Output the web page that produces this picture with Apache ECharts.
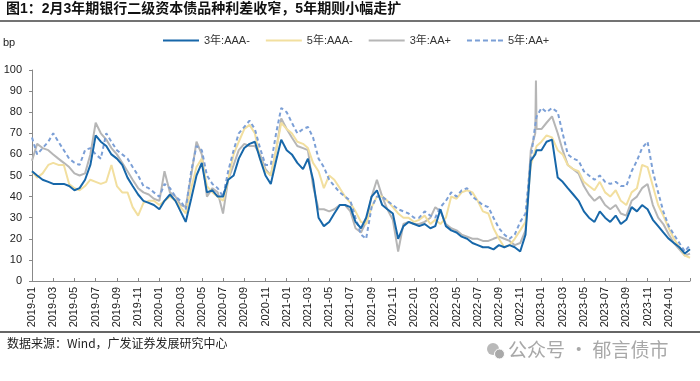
<!DOCTYPE html>
<html>
<head>
<meta charset="utf-8">
<script src="https://cdn.jsdelivr.net/npm/echarts@6/dist/echarts.min.js"></script>
<style>
html,body{margin:0;padding:0;background:#fff;}
#main{width:700px;height:381px;}
</style>
</head>
<body>
<div id="main"></div>
<script>
// Sampling dates (half-monthly, plus two extra dates around the Dec-2022 spike)
const dates = [
'2019-01-01','2019-01-16','2019-02-01','2019-02-16','2019-03-01','2019-03-16','2019-04-01','2019-04-16','2019-05-01','2019-05-16','2019-06-01','2019-06-16',
'2019-07-01','2019-07-16','2019-08-01','2019-08-16','2019-09-01','2019-09-16','2019-10-01','2019-10-16','2019-11-01','2019-11-16','2019-12-01','2019-12-16',
'2020-01-01','2020-01-16','2020-02-01','2020-02-16','2020-03-01','2020-03-16','2020-04-01','2020-04-16','2020-05-01','2020-05-16','2020-06-01','2020-06-16',
'2020-07-01','2020-07-16','2020-08-01','2020-08-16','2020-09-01','2020-09-16','2020-10-01','2020-10-16','2020-11-01','2020-11-16','2020-12-01','2020-12-16',
'2021-01-01','2021-01-16','2021-02-01','2021-02-16','2021-03-01','2021-03-16','2021-04-01','2021-04-16','2021-05-01','2021-05-16','2021-06-01','2021-06-16',
'2021-07-01','2021-07-16','2021-08-01','2021-08-16','2021-09-01','2021-09-16','2021-10-01','2021-10-16','2021-11-01','2021-11-16','2021-12-01','2021-12-16',
'2022-01-01','2022-01-16','2022-02-01','2022-02-16','2022-03-01','2022-03-16','2022-04-01','2022-04-16','2022-05-01','2022-05-16','2022-06-01','2022-06-16',
'2022-07-01','2022-07-16','2022-08-01','2022-08-16','2022-09-01','2022-09-16','2022-10-01','2022-10-16','2022-11-01','2022-11-16','2022-12-01','2022-12-14','2022-12-16','2022-12-18',
'2023-01-01','2023-01-16','2023-02-01','2023-02-16','2023-03-01','2023-03-16','2023-04-01','2023-04-16','2023-05-01','2023-05-16','2023-06-01','2023-06-16',
'2023-07-01','2023-07-16','2023-08-01','2023-08-16','2023-09-01','2023-09-16','2023-10-01','2023-10-16','2023-11-01','2023-11-16','2023-12-01','2023-12-16',
'2024-01-01','2024-01-16','2024-02-01','2024-02-16','2024-03-01'
];

const seriesNames = ['3年:AAA-', '5年:AAA-', '3年:AA+', '5年:AA+'];

const aaaMinus3Y = [
52,50,48,47,46,46,46,45,43,44,48,55,
69,66,64,60,58,55,49,45,41,38,37,36,
34,38,41,38,33,28,39,50,56,42,43,40,
40,48,50,58,63,65,66,58,50,46,57,67,
62,60,56,53,58,48,30,26,28,32,36,36,
35,28,25,30,40,43,36,34,32,20,26,28,
27,26,27,25,26,34,26,24,23,21,20,18,
17,16,16,15,17,16,17,16,14,22,57,60,61,62,
62,66,67,49,47,44,41,38,33,30,28,33,
30,28,31,27,29,35,33,36,34,29,26,23,
20,18,16,13,15
];

const aaaMinus5Y = [
52,49,51,55,56,55,55,46,44,43,45,48,
47,46,47,55,45,42,42,35,31,37,38,38,
36,38,40,38,35,32,44,54,58,45,42,40,
38,48,60,66,72,74,70,58,52,50,62,75,
72,70,66,65,63,56,52,44,50,48,44,40,
37,33,28,27,35,40,40,38,35,32,30,30,
28,29,31,27,29,27,30,40,39,42,43,42,
38,33,32,25,20,16,17,20,24,28,55,62,62,64,
66,69,68,62,60,55,53,52,47,45,43,47,
42,40,43,38,36,42,44,55,54,45,36,31,
25,20,16,12,11
];

const aaPlus3Y = [
57,65,63,62,60,58,56,54,51,50,51,60,
75,70,67,63,60,56,52,48,44,42,41,39,
38,52,42,40,36,35,50,66,60,40,44,42,
32,48,55,62,65,64,64,60,53,50,62,77,
72,68,64,63,62,45,34,34,33,34,36,36,
33,25,23,28,40,48,40,34,29,14,27,28,
27,27,28,30,35,33,27,25,24,22,21,20,
20,19,19,20,21,20,19,17,18,24,62,70,95,72,
72,75,78,70,62,55,53,51,45,41,38,40,
36,34,36,32,31,38,40,44,46,36,30,27,
22,18,15,12,13
];

const aaPlus5Y = [
68,60,63,66,70,66,62,58,56,55,62,63,
60,58,70,66,62,60,58,54,50,45,44,42,
40,46,44,40,38,34,52,64,62,50,46,44,
40,52,62,70,73,76,72,63,55,55,70,82,
80,75,70,72,73,68,58,54,48,45,42,40,
38,30,22,20,35,40,40,38,36,34,33,32,
30,30,33,31,30,35,38,42,40,43,44,40,
38,36,35,30,25,22,20,22,28,32,58,74,76,78,
82,80,82,80,70,60,58,57,52,50,48,50,
47,46,47,45,45,52,57,63,66,52,42,33,
26,22,18,14,17
];

const xTickLabels = [
'2019-01','2019-03','2019-05','2019-07','2019-09','2019-11',
'2020-01','2020-03','2020-05','2020-07','2020-09','2020-11',
'2021-01','2021-03','2021-05','2021-07','2021-09','2021-11',
'2022-01','2022-03','2022-05','2022-07','2022-09','2022-11',
'2023-01','2023-03','2023-05','2023-07','2023-09','2023-11',
'2024-01'
];

function monthIndex(s) {
  const p = s.split('-').map(Number);
  const dim = new Date(p[0], p[1], 0).getDate();
  return (p[0] - 2019) * 12 + (p[1] - 1) + (p[2] - 1) / dim;
}
const xs = dates.map(monthIndex);
function pairs(vals) { return vals.map((v, i) => [xs[i], v]); }

const colors = ['#1767a9', '#f2df9f', '#b6b6b6', '#7b9fd6'];
const allVals = [aaaMinus3Y, aaaMinus5Y, aaPlus3Y, aaPlus5Y];
const zs = [6, 4, 3, 5];
const solidIcon = 'rect';
const dashIcon = 'path://M0 0h5v2H0z M8 0h5v2H8z M16 0h5v2h-5z M24 0h5v2h-5z M31 0h5v2h-5z';

const chart = echarts.init(document.getElementById('main'), null, {renderer: 'canvas'});
const baseFont = 'Liberation Sans, Arial, Noto Sans CJK SC, sans-serif';

chart.setOption({
  animation: false,
  backgroundColor: '#ffffff',
  textStyle: {fontFamily: baseFont},
  grid: {left: 32, right: 10, top: 70, bottom: 100, containLabel: false},
  legend: {
    data: seriesNames.map((n, k) => ({name: n, icon: k === 3 ? dashIcon : solidIcon})),
    left: 158,
    top: 30,
    itemWidth: 36,
    itemHeight: 2,
    itemGap: 16,
    selectedMode: false,
    textStyle: {fontSize: 11, color: '#333', fontFamily: baseFont}
  },
  xAxis: {
    type: 'value',
    min: 0,
    max: 62,
    interval: 2,
    axisLine: {lineStyle: {color: '#888', width: 1}},
    axisTick: {show: true, inside: true, length: 3, lineStyle: {color: '#888'}},
    splitLine: {show: false},
    axisLabel: {
      rotate: 90,
      fontSize: 11,
      color: '#222',
      margin: 6,
      fontFamily: baseFont,
      showMaxLabel: true,
      formatter: function (v) {
        const k = Math.round(v / 2);
        return k < xTickLabels.length ? xTickLabels[k] : '';
      }
    }
  },
  yAxis: {
    type: 'value',
    min: 0,
    max: 100,
    interval: 10,
    axisLine: {show: true, lineStyle: {color: '#888', width: 1}},
    axisTick: {show: true, inside: false, length: 3, lineStyle: {color: '#888'}},
    splitLine: {show: false},
    axisLabel: {fontSize: 11, color: '#222', margin: 10, fontFamily: baseFont}
  },
  series: seriesNames.map((name, k) => ({
    name: name,
    type: 'line',
    data: pairs(allVals[k]),
    showSymbol: false,
    symbol: 'none',
    z: zs[k],
    lineStyle: {color: colors[k], width: 2, type: k === 3 ? [4, 3] : 'solid'},
    itemStyle: {color: colors[k]},
    emphasis: {disabled: true}
  })),
  graphic: [
    {type: 'text', left: 6, top: 2, style: {text: '图1：2月3年期银行二级资本债品种利差收窄，5年期则小幅走扩', font: 'bold 14px Liberation Sans, Noto Sans CJK SC, sans-serif', fill: '#111'}},
    {type: 'line', shape: {x1: 0, y1: 21, x2: 700, y2: 21}, style: {stroke: '#444', lineWidth: 1.5}},
    {type: 'text', left: 3, top: 37, style: {text: 'bp', font: '11px Liberation Sans, sans-serif', fill: '#222'}},
    {type: 'line', shape: {x1: 0, y1: 332, x2: 700, y2: 332}, style: {stroke: '#333', lineWidth: 1.5}},
    {type: 'text', left: 7, top: 337, style: {text: '数据来源：Wind，广发证券发展研究中心', font: '12px Noto Sans CJK SC, sans-serif', fill: '#222'}},
    {type: 'circle', shape: {cx: 493, cy: 349, r: 6}, style: {fill: '#b9b9b9'}},
    {type: 'circle', shape: {cx: 499.5, cy: 354, r: 5}, style: {fill: '#a9a9a9', stroke: '#fff', lineWidth: 1}},
    {type: 'text', left: 508, top: 340, style: {text: '公众号 · 郁言债市', font: '19px Noto Sans CJK SC, sans-serif', fill: '#a8a8a8'}}
  ]
});
</script>
</body>
</html>
